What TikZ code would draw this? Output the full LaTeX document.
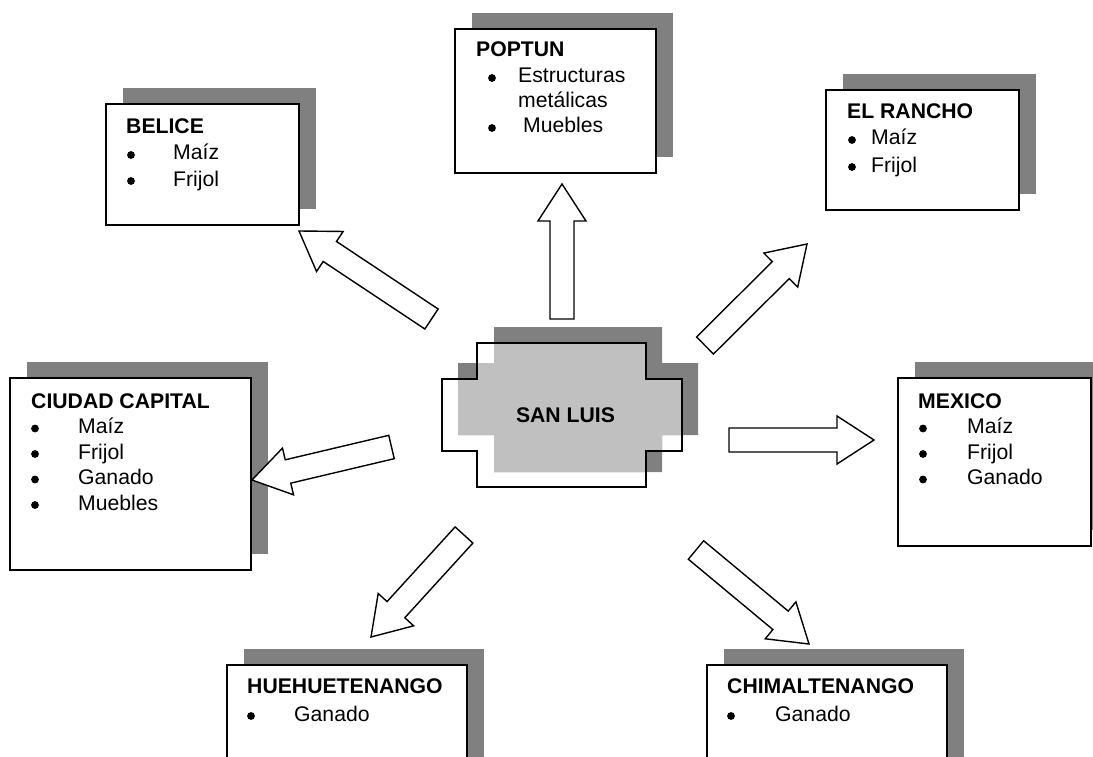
\documentclass[tikz,border=0pt]{standalone}
\usepackage{fontspec}
\setmainfont{Liberation Sans}
\usetikzlibrary{calc,shadows}
\definecolor{shadowgray}{HTML}{808080}
\definecolor{fillgray}{HTML}{C0C0C0}
\tikzset{
  boxframe/.style={draw=black, line width=2pt, fill=white, inner sep=0pt, anchor=north west,
    general shadow={fill=shadowgray, shadow xshift=16.5pt, shadow yshift=16pt}},
  titletext/.style={anchor=base west, inner sep=0pt, font=\fontsize{21.2pt}{25pt}\selectfont\bfseries},
  itemtext/.style={anchor=base west, inner sep=0pt, font=\fontsize{21.2pt}{25pt}\selectfont},
  bulletdot/.style={circle, fill=black, inner sep=0pt, minimum size=7.8pt, yshift=5pt},
  blockarrow/.style={draw=black, line width=1.4pt, fill=white, line join=miter},
}
\newcommand\barrow[3]{%
  \coordinate (#3b) at ($(#2)!37pt!(#1)$);
  \draw[blockarrow] ($(#1)!12pt!90:(#2)$) -- ($(#3b)!12pt!-90:(#1)$) -- ($(#3b)!24pt!-90:(#1)$)
    -- (#2) -- ($(#3b)!24pt!90:(#1)$) -- ($(#3b)!12pt!90:(#1)$) -- ($(#1)!12pt!-90:(#2)$) -- cycle;
}
\begin{document}
\begin{tikzpicture}[x=1pt, y=-1pt]
\useasboundingbox (0,0) rectangle (1093,757);
\clip (0,0) rectangle (1093,757);
\fill[white] (0,0) rectangle (1093,757);

% ---------- boxes ----------
\node[boxframe, minimum width=193pt, minimum height=121pt] (bel) at (105,103) {};
\node[titletext] (bel-t) at (126,134) {BELICE};
\node[bulletdot] (bel-b1) at (131,160) {};
\node[itemtext] (bel-1) at (173,160) {Maíz};
\node[bulletdot] (bel-b2) at (131,186) {};
\node[itemtext] (bel-2) at (173,186) {Frijol};

\node[boxframe, minimum width=201pt, minimum height=144pt] (pop) at (454,28) {};
\node[titletext] (pop-t) at (476,57) {POPTUN};
\node[bulletdot] (pop-b1) at (492,83) {};
\node[itemtext] (pop-1) at (518,83) {Estructuras};
\node[itemtext] (pop-1b) at (518,108) {metálicas};
\node[bulletdot] (pop-b2) at (492,133) {};
\node[itemtext] (pop-2) at (523,133) {Muebles};

\node[boxframe, minimum width=193pt, minimum height=120pt] (ran) at (825,89) {};
\node[titletext] (ran-t) at (847,119) {EL RANCHO};
\node[bulletdot] (ran-b1) at (852,145) {};
\node[itemtext] (ran-1) at (871,145) {Maíz};
\node[bulletdot] (ran-b2) at (852,172) {};
\node[itemtext] (ran-2) at (871,172) {Frijol};

\node[boxframe, minimum width=241pt, minimum height=192pt] (cap) at (9,377) {};
\node[titletext] (cap-t) at (31,408) {CIUDAD CAPITAL};
\node[bulletdot] (cap-b1) at (35,433.5) {};
\node[itemtext] (cap-1) at (78,433.5) {Maíz};
\node[bulletdot] (cap-b2) at (35,459) {};
\node[itemtext] (cap-2) at (78,459) {Frijol};
\node[bulletdot] (cap-b3) at (35,484.5) {};
\node[itemtext] (cap-3) at (78,484.5) {Ganado};
\node[bulletdot] (cap-b4) at (35,510) {};
\node[itemtext] (cap-4) at (78,510) {Muebles};

\node[boxframe, minimum width=193pt, minimum height=168pt] (mex) at (897,377) {};
\node[titletext] (mex-t) at (918,408) {MEXICO};
\node[bulletdot] (mex-b1) at (923,433.5) {};
\node[itemtext] (mex-1) at (967,433.5) {Maíz};
\node[bulletdot] (mex-b2) at (923,459) {};
\node[itemtext] (mex-2) at (967,459) {Frijol};
\node[bulletdot] (mex-b3) at (923,484.5) {};
\node[itemtext] (mex-3) at (967,484.5) {Ganado};

\node[boxframe, minimum width=240pt, minimum height=120pt] (hue) at (226,664) {};
\node[titletext] (hue-t) at (247,693) {HUEHUETENANGO};
\node[bulletdot] (hue-b1) at (251,721) {};
\node[itemtext] (hue-1) at (294,721) {Ganado};

\node[boxframe, minimum width=240pt, minimum height=120pt] (chi) at (706,664) {};
\node[titletext] (chi-t) at (727,693) {CHIMALTENANGO};
\node[bulletdot] (chi-b1) at (731,721) {};
\node[itemtext] (chi-1) at (775,721) {Ganado};

% ---------- centre shape ----------
\def\shadowpath{(494,327) -- (662,327) -- (662,363) -- (698,363) -- (698,435) -- (662,435) -- (662,472) -- (494,472) -- (494,435) -- (458,435) -- (458,363) -- (494,363) -- cycle}
\def\outlinepath{(477,343) -- (646,343) -- (646,379) -- (682,379) -- (682,451) -- (646,451) -- (646,487) -- (477,487) -- (477,451) -- (442,451) -- (442,379) -- (477,379) -- cycle}
\fill[shadowgray] \shadowpath;
\begin{scope}
  \clip \outlinepath;
  \fill[fillgray] \shadowpath;
\end{scope}
\draw[black, line width=1.6pt, line join=miter] \outlinepath;
\node[titletext, anchor=base] (sl) at (565.5,422) {SAN LUIS};

% ---------- arrows ----------
\coordinate (aB0) at (431.5,319);  \coordinate (aB1) at (299,231);
\coordinate (aP0) at (562,319);    \coordinate (aP1) at (562,184);
\coordinate (aR0) at (705,345.5);  \coordinate (aR1) at (807,244);
\coordinate (aM0) at (729,440);    \coordinate (aM1) at (874,440);
\coordinate (aC0) at (391.5,447);  \coordinate (aC1) at (252,480);
\coordinate (aH0) at (464,535);    \coordinate (aH1) at (371,637);
\coordinate (aX0) at (696,550);    \coordinate (aX1) at (809,644);
\barrow{aB0}{aB1}{aB}
\barrow{aP0}{aP1}{aP}
\barrow{aR0}{aR1}{aR}
\barrow{aM0}{aM1}{aM}
\barrow{aC0}{aC1}{aC}
\barrow{aH0}{aH1}{aH}
\barrow{aX0}{aX1}{aX}
\end{tikzpicture}
\end{document}
